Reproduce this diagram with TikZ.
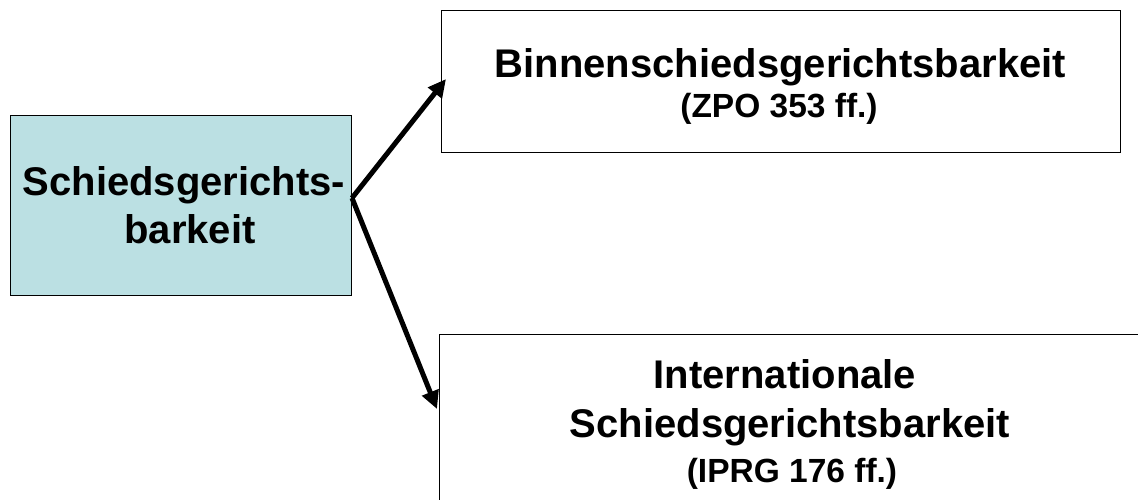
\documentclass[tikz,border=0pt]{standalone}
\usepackage{fontspec}
\setmainfont{Liberation Sans}
\usetikzlibrary{arrows.meta}
\definecolor{boxfill}{RGB}{187,224,227}
\tikzset{
  box/.style={draw=black, line width=1.2pt, rectangle, inner sep=0pt, anchor=north west},
  big/.style={anchor=base, inner sep=0pt, font=\fontsize{40}{48}\selectfont\bfseries},
  small/.style={anchor=base, inner sep=0pt, font=\fontsize{33.5}{40}\selectfont\bfseries},
  conn/.style={line width=5pt, -{Triangle[length=18pt,width=17pt]}}
}
\begin{document}
\begin{tikzpicture}[x=1pt,y=-1pt]
\useasboundingbox (0,0) rectangle (1138,499);
\clip (0,0) rectangle (1138,499);
% boxes
\node[box, fill=boxfill, minimum width=341pt, minimum height=180pt] (left) at (10,115) {};
\node[box, fill=white, minimum width=679pt, minimum height=142pt] (top) at (441,10) {};
\node[box, fill=white, minimum width=760pt, minimum height=220pt] (bot) at (439,334) {};
% texts
\node[big] (l1) at (184,195) {Schiedsgerichts-};
\node[big] (l2) at (190,243) {barkeit};
\node[big] (t1) at (780.5,77) {Binnenschiedsgerichtsbarkeit};
\node[small] (t2) at (779,117) {(ZPO 353 ff.)};
\node[big] (b1) at (785,388) {Internationale};
\node[big] (b2) at (790,437) {Schiedsgerichtsbarkeit};
\node[small] (b3) at (792,482) {(IPRG 176 ff.)};
% connectors
\coordinate (s) at (352,198);
\coordinate (e1) at (446,79);
\coordinate (e2) at (437,409);
\draw[conn] (s) -- (e1);
\draw[conn] (s) -- (e2);
\end{tikzpicture}
\end{document}
